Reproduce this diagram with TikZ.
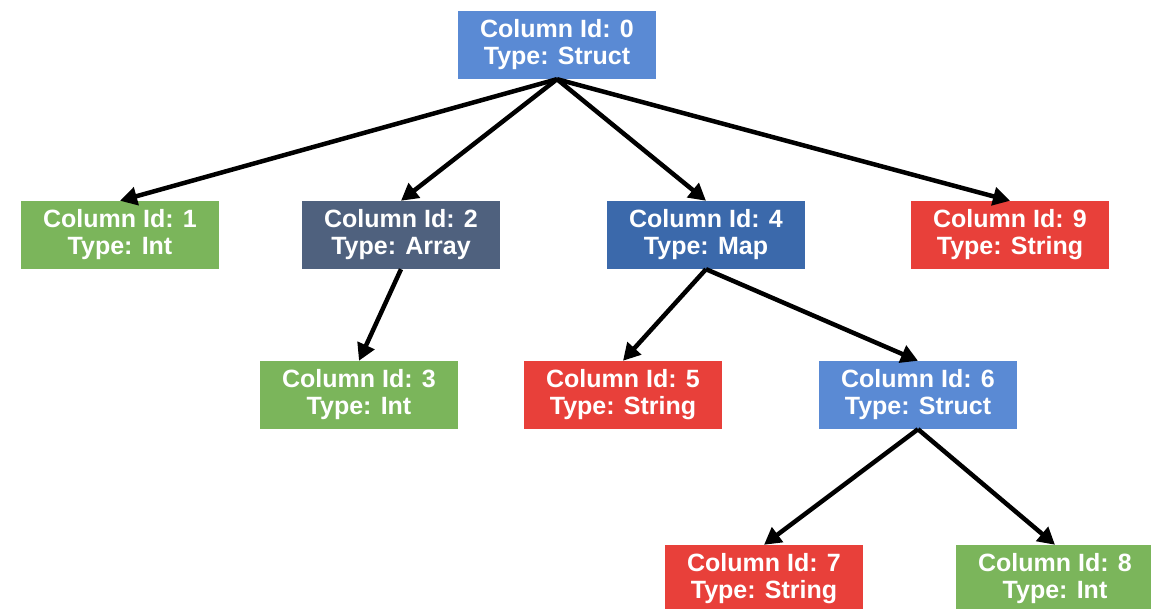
\documentclass[tikz,border=0pt]{standalone}
\usepackage{fontspec}
\setmainfont{Liberation Sans}
\usetikzlibrary{arrows.meta}
\definecolor{cblue}{HTML}{5A8AD4}
\definecolor{cdblue}{HTML}{3B69AB}
\definecolor{cslate}{HTML}{4F617E}
\definecolor{cgreen}{HTML}{7BB55B}
\definecolor{cred}{HTML}{E8403A}
\tikzset{
  col/.style={minimum width=198pt, minimum height=68pt, inner sep=0pt,
    text=white, align=center,
    font=\fontsize{25}{27}\selectfont\bfseries},
  edge/.style={line width=4.5pt, draw=black,
    -{Triangle[length=17pt,width=18pt]}}
}
\begin{document}
\begin{tikzpicture}[x=1pt,y=-1pt]
\useasboundingbox (0,0) rectangle (1151,609);
\node[col, fill=cblue]  (n0) at (557,45)  {Column Id: 0\\Type: Struct};
\node[col, fill=cgreen] (n1) at (120,235) {Column Id: 1\\Type: Int};
\node[col, fill=cslate] (n2) at (401,235) {Column Id: 2\\Type: Array};
\node[col, fill=cdblue] (n4) at (706,235) {Column Id: 4\\Type: Map};
\node[col, fill=cred]   (n9) at (1010,235) {Column Id: 9\\Type: String};
\node[col, fill=cgreen] (n3) at (359,395) {Column Id: 3\\Type: Int};
\node[col, fill=cred]   (n5) at (623,395) {Column Id: 5\\Type: String};
\node[col, fill=cblue]  (n6) at (918,395) {Column Id: 6\\Type: Struct};
\node[col, fill=cred]   (n7) at (764,579) {Column Id: 7\\Type: String};
\node[col, fill=cgreen] (n8) at (1055,579) {Column Id: 8\\Type: Int};
\draw[edge] (n0.south) -- (n1.north);
\draw[edge] (n0.south) -- (n2.north);
\draw[edge] (n0.south) -- (n4.north);
\draw[edge] (n0.south) -- (n9.north);
\draw[edge] (n2.south) -- (n3.north);
\draw[edge] (n4.south) -- (n5.north);
\draw[edge] (n4.south) -- (n6.north);
\draw[edge] (n6.south) -- (n7.north);
\draw[edge] (n6.south) -- (n8.north);
\end{tikzpicture}
\end{document}
